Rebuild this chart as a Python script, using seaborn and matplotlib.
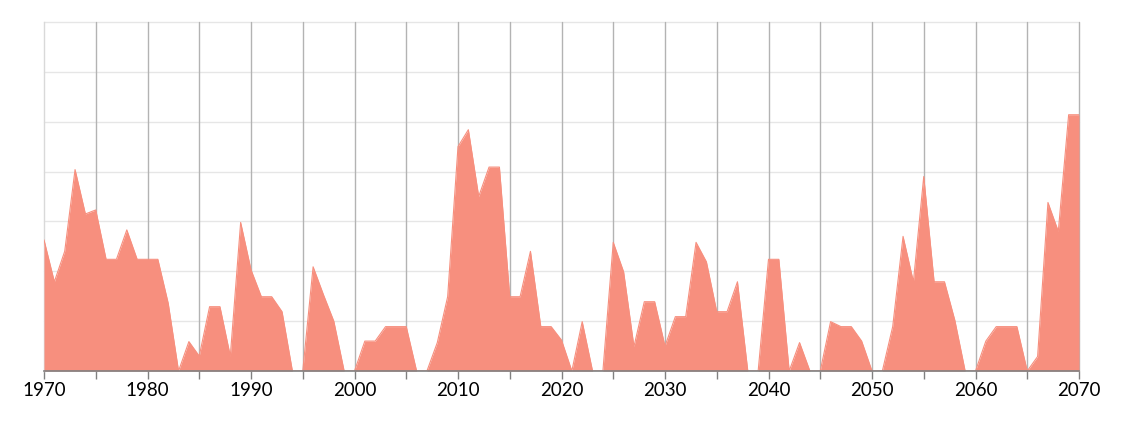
import numpy as np
import pandas as pd
import matplotlib
matplotlib.use('Agg')
import matplotlib.pyplot as plt
import seaborn as sns

# yearly values (units = horizontal gridlines)
years = list(range(1970, 2071))
values = [
    2.63, 1.79, 2.40, 4.04, 3.15, 3.23, 2.24, 2.24, 2.83, 2.24,   # 1970-1979
    2.24, 2.24, 1.36, 0.00, 0.59, 0.30, 1.29, 1.29, 0.30, 2.98,   # 1980-1989
    2.03, 1.49, 1.49, 1.19, 0.00, 0.00, 2.09, 1.53, 1.00, 0.00,   # 1990-1999
    0.00, 0.60, 0.60, 0.89, 0.89, 0.89, 0.00, 0.00, 0.57, 1.49,   # 2000-2009
    4.50, 4.84, 3.50, 4.09, 4.09, 1.49, 1.49, 2.40, 0.89, 0.89,   # 2010-2019
    0.62, 0.00, 0.99, 0.00, 0.00, 2.58, 1.99, 0.49, 1.39, 1.39,   # 2020-2029
    0.50, 1.09, 1.09, 2.58, 2.19, 1.19, 1.19, 1.79, 0.00, 0.00,   # 2030-2039
    2.24, 2.24, 0.00, 0.57, 0.00, 0.00, 0.99, 0.89, 0.89, 0.60,   # 2040-2049
    0.00, 0.00, 0.89, 2.70, 1.79, 3.90, 1.79, 1.79, 1.02, 0.00,   # 2050-2059
    0.00, 0.60, 0.89, 0.89, 0.89, 0.00, 0.29, 3.38, 2.80, 5.14,   # 2060-2069
    5.14,                                                         # 2070
]
x_labels = [str(y) for y in range(1970, 2071, 10)]

df = pd.DataFrame({'year': years, 'value': values})
fill_color = '#f78f7e'

sns.set_style('white')
plt.rcParams['font.family'] = ['Lato', 'DejaVu Sans']

fig = plt.figure(figsize=(11.24, 4.23), dpi=100)
ax = fig.add_axes([44 / 1124, 1 - 371 / 423, (1079 - 44) / 1124, (371 - 22) / 423])

# grid (behind the area)
for yv in range(1, 8):
    ax.axhline(yv, color='#e6e6e6', lw=1, zorder=0.5, clip_on=False)
for xv in range(1975, 2071, 5):
    ax.axvline(xv, color='#b3b3b3', lw=1, zorder=0.6, clip_on=False)

sns.lineplot(data=df, x='year', y='value', color=fill_color, lw=0.8, ax=ax, zorder=3)
ax.fill_between(df['year'], df['value'], 0, color=fill_color, lw=0, zorder=3)

ax.set_xlim(1970, 2070)
ax.set_ylim(0, 7)
ax.set_xticks(range(1970, 2071, 10))
ax.set_xticklabels(x_labels, fontsize=13.5, color='#000000')
ax.set_xticks(range(1970, 2071, 5), minor=True)
ax.tick_params(axis='x', which='both', direction='out', length=6, width=1,
               color='#808080', bottom=True, pad=2)
ax.set_yticks([])
ax.set_xlabel('')
ax.set_ylabel('')

for side in ['top', 'right']:
    ax.spines[side].set_visible(False)
ax.spines['left'].set_color('#d9d9d9')
ax.spines['left'].set_linewidth(1)
ax.spines['left'].set_zorder(0.7)
ax.spines['bottom'].set_color('#808080')
ax.spines['bottom'].set_linewidth(1.2)
ax.spines['bottom'].set_zorder(4)

fig.savefig('out.png', dpi=100, facecolor='white')
